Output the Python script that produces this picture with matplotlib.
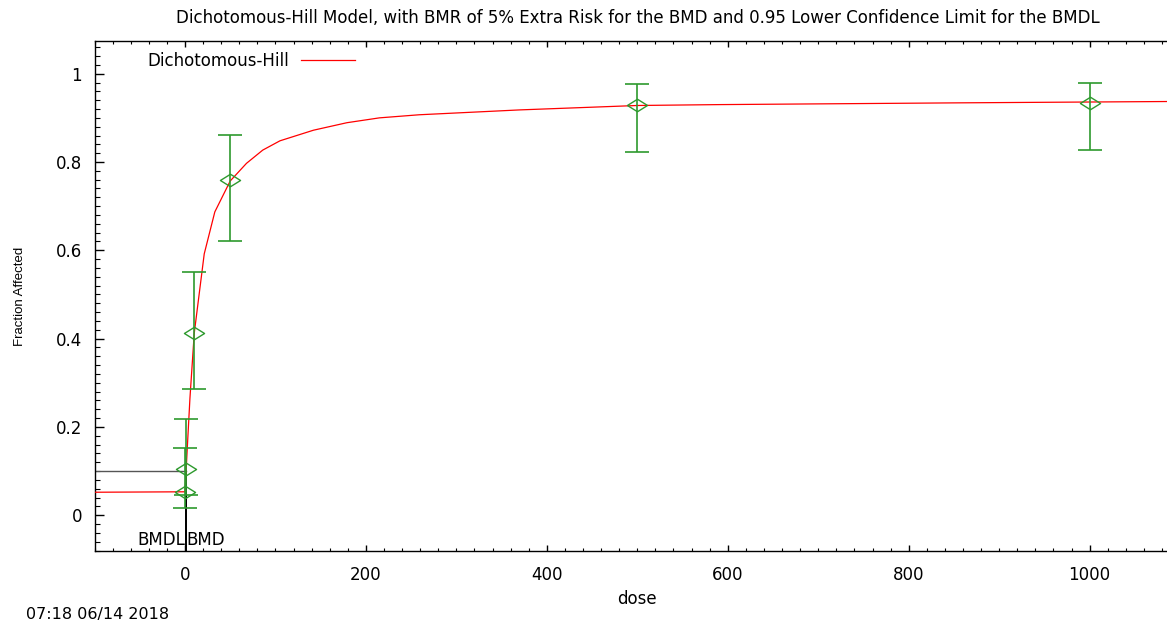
import matplotlib
matplotlib.use("Agg")
import matplotlib.pyplot as plt
from matplotlib.path import Path
from matplotlib.ticker import MultipleLocator, FixedLocator

# ---- data ----
doses = [0, 1, 10, 50, 500, 1000]
frac = [0.053, 0.104, 0.413, 0.759, 0.930, 0.933]
ci_low = [0.017, 0.045, 0.285, 0.622, 0.823, 0.827]
ci_high = [0.152, 0.217, 0.551, 0.861, 0.977, 0.978]

curve_dose = [-100, 0, 1, 2.5, 5.5, 10.3, 21.3, 33, 50, 68, 86, 105, 142,
              179, 215, 259, 370, 500, 590, 856, 1085]
curve_frac = [0.052, 0.053, 0.09, 0.15, 0.265, 0.413, 0.592, 0.687, 0.757,
              0.797, 0.827, 0.848, 0.872, 0.889, 0.900, 0.907, 0.918, 0.928,
              0.930, 0.934, 0.937]

bmr_level = 0.1
bmd = 1.5
bmdl = 0.7

y_ticks = [0, 0.2, 0.4, 0.6, 0.8, 1.0]
y_ticklabels = ["0", "0.2", "0.4", "0.6", "0.8", "1"]
x_ticks = [0, 200, 400, 600, 800, 1000]
x_ticklabels = ["0", "200", "400", "600", "800", "1000"]

title = ("Dichotomous-Hill Model, with BMR of 5% Extra Risk for the BMD "
         "and 0.95 Lower Confidence Limit for the BMDL")
timestamp = "07:18 06/14 2018"

# ---- figure ----
W, H = 1167, 624
FS = 12
plt.rcParams['font.family'] = ['DejaVu Sans']
fig = plt.figure(figsize=(W / 100, H / 100), dpi=100)

ax_l, ax_r, ax_b, ax_t = 94.5, 1167, 551, 41.3
ax = fig.add_axes([ax_l / W, 1 - ax_b / H, (ax_r - ax_l) / W, (ax_b - ax_t) / H])
ax.set_xlim(-100, 1085.5)
ax.set_ylim(-0.0811, 1.0734)

green = '#2e9a2e'
diamond = Path([(-1, 0), (0, 0.62), (1, 0), (0, -0.62), (-1, 0)],
               [Path.MOVETO, Path.LINETO, Path.LINETO, Path.LINETO, Path.CLOSEPOLY])

# model curve
ax.plot(curve_dose, curve_frac, color='#ff0000', lw=0.9, label='Dichotomous-Hill', zorder=3)

# error bars and observed points
yerr = [[f - lo for f, lo in zip(frac, ci_low)], [hi - f for f, hi in zip(frac, ci_high)]]
ax.errorbar(doses, frac, yerr=yerr, fmt='none', ecolor=green, elinewidth=1.2,
            capsize=8.6, capthick=1.2, zorder=4)
ax.plot(doses, frac, linestyle='none', marker=diamond, markersize=14.5,
        markerfacecolor='none', markeredgecolor=green, markeredgewidth=1.0, zorder=5)

# BMD / BMDL lines
ax.plot([-100, bmd], [bmr_level, bmr_level], color='#555555', lw=1.0, zorder=2)
ax.plot([bmd, bmd], [-0.0811, bmr_level], color='black', lw=1.3, zorder=2)
ax.plot([bmdl, bmdl], [-0.0811, bmr_level], color='black', lw=1.3, zorder=2)
ax.text(bmdl, -0.056, 'BMDL', ha='right', va='center', fontsize=FS)
ax.text(bmd, -0.056, 'BMD', ha='left', va='center', fontsize=FS)

# axes styling
ax.spines['right'].set_visible(False)
for s in ['left', 'bottom', 'top']:
    ax.spines[s].set_linewidth(1.0)
ax.xaxis.set_major_locator(FixedLocator(x_ticks))
ax.set_xticklabels(x_ticklabels)
ax.xaxis.set_minor_locator(MultipleLocator(20))
ax.yaxis.set_major_locator(FixedLocator(y_ticks))
ax.set_yticklabels(y_ticklabels)
ax.yaxis.set_minor_locator(MultipleLocator(0.02))
ax.tick_params(axis='x', which='major', direction='in', length=4.5, width=1.0,
               top=True, labelsize=FS, pad=10.5)
ax.tick_params(axis='x', which='minor', direction='in', length=2.2, width=0.8, top=True)
ax.tick_params(axis='y', which='major', direction='in', length=6.5, width=1.0,
               labelsize=FS, pad=9)
ax.tick_params(axis='y', which='minor', direction='in', length=3.4, width=0.8)

ax.set_xlabel('dose', fontsize=FS)
ax.xaxis.set_label_coords((636.5 - ax_l) / (ax_r - ax_l), -(590 - ax_b) / (ax_b - ax_t))
ax.set_ylabel('Fraction Affected', fontsize=9.5,
              family=['Liberation Sans Narrow', 'Liberation Sans'])
ax.yaxis.set_label_coords(-(ax_l - 26) / (ax_r - ax_l), 0.5)

fs_px = FS * 100 / 72
leg = ax.legend(loc='upper left',
                bbox_to_anchor=((147 - ax_l) / (ax_r - ax_l), 1 - (52 - ax_t) / (ax_b - ax_t)),
                frameon=False, markerfirst=False, fontsize=FS,
                handlelength=54 / fs_px, handletextpad=12 / fs_px,
                borderaxespad=0, borderpad=0)

fig.text(637.5 / W, 1 - 18 / H, title, ha='center', va='center', fontsize=FS)
fig.text(26 / W, 1 - 614.5 / H, timestamp, ha='left', va='center', fontsize=11.5)

fig.savefig('out.png', dpi=100)
